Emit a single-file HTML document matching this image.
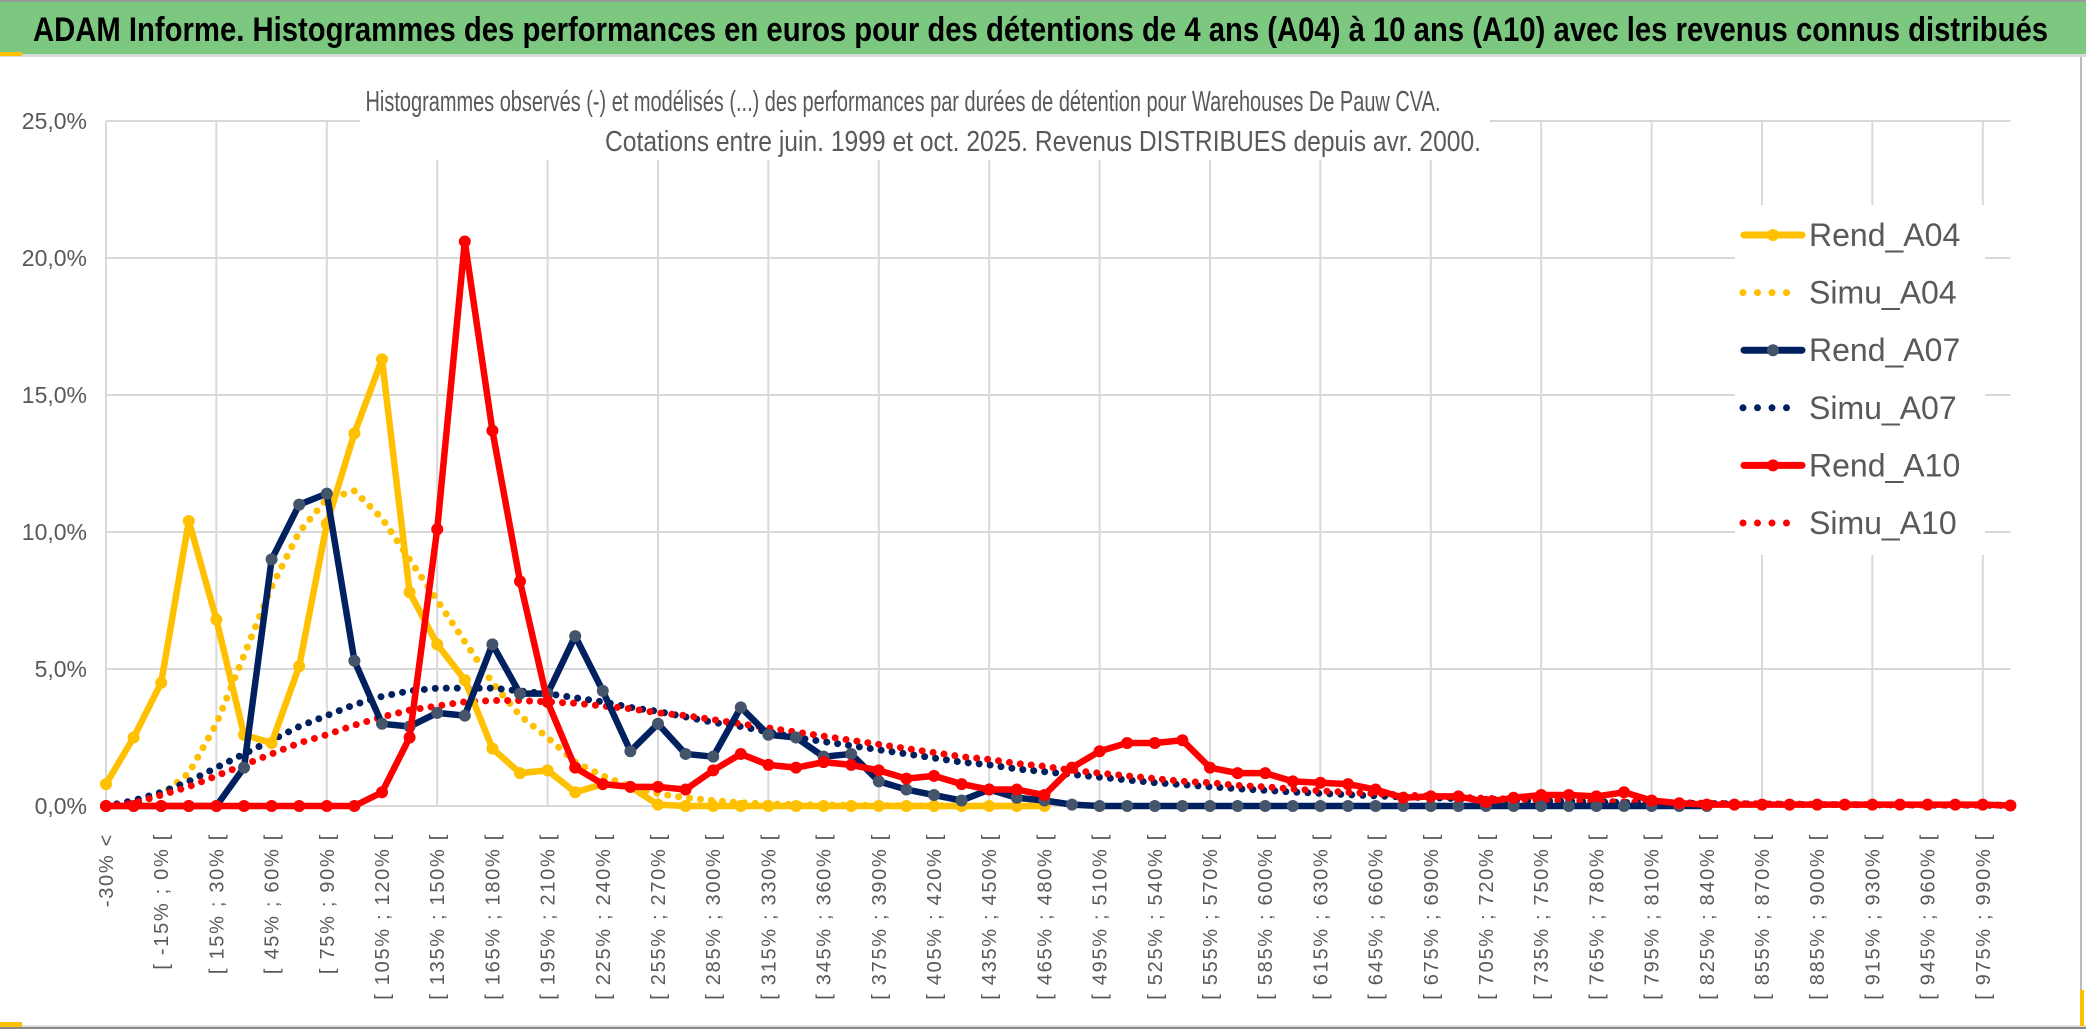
<!DOCTYPE html>
<html><head><meta charset="utf-8"><style>
html,body{margin:0;padding:0;background:#fff;}
svg{display:block;font-family:"Liberation Sans Narrow","Liberation Sans",sans-serif;}
</style></head><body>
<svg id="chart" width="2086" height="1033" viewBox="0 0 2086 1033" xmlns="http://www.w3.org/2000/svg">
<rect x="0" y="0" width="2086" height="1033" fill="#fff"/>
<rect x="0" y="0" width="2086" height="2" fill="#999"/>
<rect x="0" y="2" width="2086" height="52" fill="#7DC881"/>
<rect x="0" y="54" width="2086" height="3" fill="#d9d9d9"/>
<rect x="0" y="52" width="22" height="4" fill="#FFC000"/>
<text x="33" y="41" font-size="34" font-weight="bold" fill="#000" textLength="2015" lengthAdjust="spacingAndGlyphs">ADAM Informe. Histogrammes des performances en euros pour des détentions de 4 ans (A04) à 10 ans (A10) avec les revenus connus distribués</text>
<rect x="2080" y="57" width="2" height="970" fill="#bbb"/>
<rect x="0" y="1025" width="2086" height="2" fill="#ddd"/>
<rect x="0" y="1027" width="2086" height="2" fill="#888"/>
<rect x="0" y="1022" width="22" height="5" fill="#FFC000"/>
<rect x="2080" y="990" width="4" height="36" fill="#FFC000"/>
<g id="grid"></g>
<rect x="360" y="80" width="1130" height="80" fill="#fff"/>
<rect x="1735" y="205" width="250" height="350" fill="#fff"/>
<g fill="#595959" font-size="29" text-anchor="middle">
<text x="903" y="111" textLength="1075" lengthAdjust="spacingAndGlyphs">Histogrammes observés (-) et modélisés (...) des performances par durées de détention pour Warehouses De Pauw CVA.</text>
<text x="1043" y="151" textLength="876" lengthAdjust="spacingAndGlyphs">Cotations entre juin. 1999 et oct. 2025. Revenus DISTRIBUES depuis avr. 2000.</text>
</g>
<g id="yaxis"></g>
<g id="xaxis"></g>
<g id="series"></g>
<g id="legend"></g>
</svg>
<script>
const yTicks = [0, 5, 10, 15, 20, 25];
const yTickLabels = ["0,0%", "5,0%", "10,0%", "15,0%", "20,0%", "25,0%"];
const categoryCount = 70;
const rendA04 = [0.8,2.5,4.5,10.4,6.8,2.6,2.3,5.1,10.3,13.6,16.3,7.8,5.9,4.6,2.1,1.2,1.3,0.5,0.8,0.7,0.05,0,0,0,0,0,0,0,0,0,0,0,0,0,0];
const simuA04 = [0,0.1,0.4,1.2,3.0,5.5,8.0,10.0,11.2,11.5,10.5,9.0,7.5,6.0,4.5,3.3,2.5,1.6,1.1,0.7,0.45,0.3,0.2,0.12,0.08,0.05,0.04,0.03,0.02,0.01,0.01,0,0,0,0];
const rendA07 = [0,0,0,0,0,1.4,9.0,11.0,11.4,5.3,3.0,2.9,3.4,3.3,5.9,4.1,4.1,6.2,4.2,2.0,3.0,1.9,1.8,3.6,2.6,2.5,1.8,1.9,0.9,0.6,0.4,0.2,0.6,0.3,0.2,0.05,0,0,0,0,0,0,0,0,0,0,0,0,0,0,0,0,0,0,0,0,0,0,0];
const simuA07 = [0,0.2,0.5,0.9,1.4,1.9,2.4,2.9,3.3,3.7,4.0,4.2,4.3,4.3,4.3,4.2,4.1,3.95,3.8,3.6,3.45,3.25,3.05,2.9,2.7,2.5,2.35,2.2,2.05,1.9,1.75,1.6,1.5,1.35,1.25,1.15,1.05,0.95,0.85,0.78,0.7,0.63,0.57,0.51,0.46,0.41,0.37,0.33,0.3,0.27,0.24,0.21,0.19,0.17,0.15,0.13,0.11,0.1,0.09,0.08,0.07,0.06,0.05,0.05,0.04,0.04,0.03,0.03,0.03,0.02];
const rendA10 = [0,0,0,0,0,0,0,0,0,0,0.5,2.5,10.1,20.6,13.7,8.2,3.8,1.4,0.8,0.7,0.7,0.6,1.3,1.9,1.5,1.4,1.6,1.5,1.3,1.0,1.1,0.8,0.6,0.6,0.4,1.4,2.0,2.3,2.3,2.4,1.4,1.2,1.2,0.9,0.85,0.8,0.6,0.3,0.35,0.35,0.15,0.3,0.4,0.4,0.35,0.5,0.2,0.1,0.05,0.05,0.05,0.05,0.05,0.05,0.05,0.05,0.05,0.05,0.05,0.02];
const simuA10 = [0,0.1,0.4,0.7,1.1,1.5,1.9,2.3,2.6,2.95,3.25,3.5,3.65,3.8,3.85,3.85,3.8,3.75,3.65,3.55,3.4,3.3,3.15,3.0,2.85,2.7,2.55,2.4,2.25,2.1,1.95,1.8,1.7,1.55,1.45,1.3,1.2,1.1,1.0,0.9,0.85,0.75,0.7,0.62,0.55,0.5,0.45,0.4,0.36,0.32,0.28,0.25,0.22,0.2,0.17,0.15,0.13,0.12,0.1,0.09,0.08,0.07,0.06,0.05,0.05,0.04,0.04,0.03,0.03,0.03];

const NS = "http://www.w3.org/2000/svg";
const X0 = 106, DX = 27.6, Y0 = 806, PX_PER_PCT = 27.4;
function xPos(i){ return X0 + i*DX; }
function yPos(v){ return Y0 - v*PX_PER_PCT; }
function mk(tag, attrs, parent){ const e=document.createElementNS(NS,tag); for(const k in attrs) e.setAttribute(k,attrs[k]); parent.appendChild(e); return e; }
function catLabel(i){ if(i===0) return "-30% <"; const a=-30+(i-1)*15; return "[ "+a+"% ; "+(a+15)+"% ["; }

const grid=document.getElementById('grid');
yTicks.forEach((t)=>{
  const l=mk('line',{x1:X0,x2:xPos(categoryCount-1),y1:yPos(t),y2:yPos(t),stroke:'#d9d9d9','stroke-width':2},grid);
  
  
});
for(let i=0;i<categoryCount;i+=4){
  const l=mk('line',{x1:xPos(i),x2:xPos(i),y1:yPos(25),y2:yPos(0),stroke:'#d9d9d9','stroke-width':2},grid);
  
  
}
const ya=document.getElementById('yaxis');
yTicks.forEach((t,k)=>{
  const tx=mk('text',{x:87,y:yPos(t)+8,'text-anchor':'end','font-size':23,fill:'#595959'},ya);
  tx.textContent=yTickLabels[k];
  
  
});
const xa=document.getElementById('xaxis');
for(let i=0;i<categoryCount;i+=2){
  const x=xPos(i)+7, y=833;
  const tx=mk('text',{x:x,y:y,transform:'rotate(-90 '+x+' '+y+')','text-anchor':'end','font-size':20,'letter-spacing':'1.7',fill:'#595959','font-family':'"Liberation Sans",sans-serif'},xa);
  tx.textContent=catLabel(i);
  
  
}
const sg=document.getElementById('series');
function drawDotted(vals,color,name){
  const pts=vals.map((v,i)=>xPos(i)+','+yPos(v)).join(' ');
  const p=mk('polyline',{points:pts,fill:'none',stroke:color,'stroke-width':7,'stroke-linecap':'round','stroke-dasharray':'0 11'},sg);
  
  
}
function drawSolid(vals,color,mcolor,name){
  const pts=vals.map((v,i)=>xPos(i)+','+yPos(v)).join(' ');
  const p=mk('polyline',{points:pts,fill:'none',stroke:color,'stroke-width':6.5,'stroke-linejoin':'round'},sg);
  
  
  vals.forEach((v,i)=>{
    const c=mk('circle',{cx:xPos(i),cy:yPos(v),r:6,fill:mcolor},sg);
    
    
  });
}
drawDotted(simuA04,'#FFC000','simu-a04-line');
drawDotted(simuA07,'#002060','simu-a07-line');
drawDotted(simuA10,'#FF0000','simu-a10-line');
drawSolid(rendA04,'#FFC000','#FFC000','rend-a04-line');
drawSolid(rendA07,'#002060','#44546A','rend-a07-line');
drawSolid(rendA10,'#FF0000','#FF0000','rend-a10-line');

const lg=document.getElementById('legend');
const legendNames=["Rend_A04","Simu_A04","Rend_A07","Simu_A07","Rend_A10","Simu_A10"];
const legendColors=["#FFC000","#FFC000","#002060","#002060","#FF0000","#FF0000"];
legendNames.forEach((n,k)=>{
  const y=235+k*57.6;
  const g=mk('g',{},lg);
  
  
  if(k%2===0){
    mk('line',{x1:1744,x2:1802,y1:y,y2:y,stroke:legendColors[k],'stroke-width':7,'stroke-linecap':'round'},g);
    mk('circle',{cx:1773,cy:y,r:6,fill:k===2?'#44546A':legendColors[k]},g);
  } else {
    mk('line',{x1:1743,x2:1800,y1:y,y2:y,stroke:legendColors[k],'stroke-width':7,'stroke-linecap':'round','stroke-dasharray':'0 14.5'},g);
  }
  const t=mk('text',{x:1809,y:y+11,'font-size':32,fill:'#595959'},g);
  t.textContent=n;
});
</script>
</body></html>
